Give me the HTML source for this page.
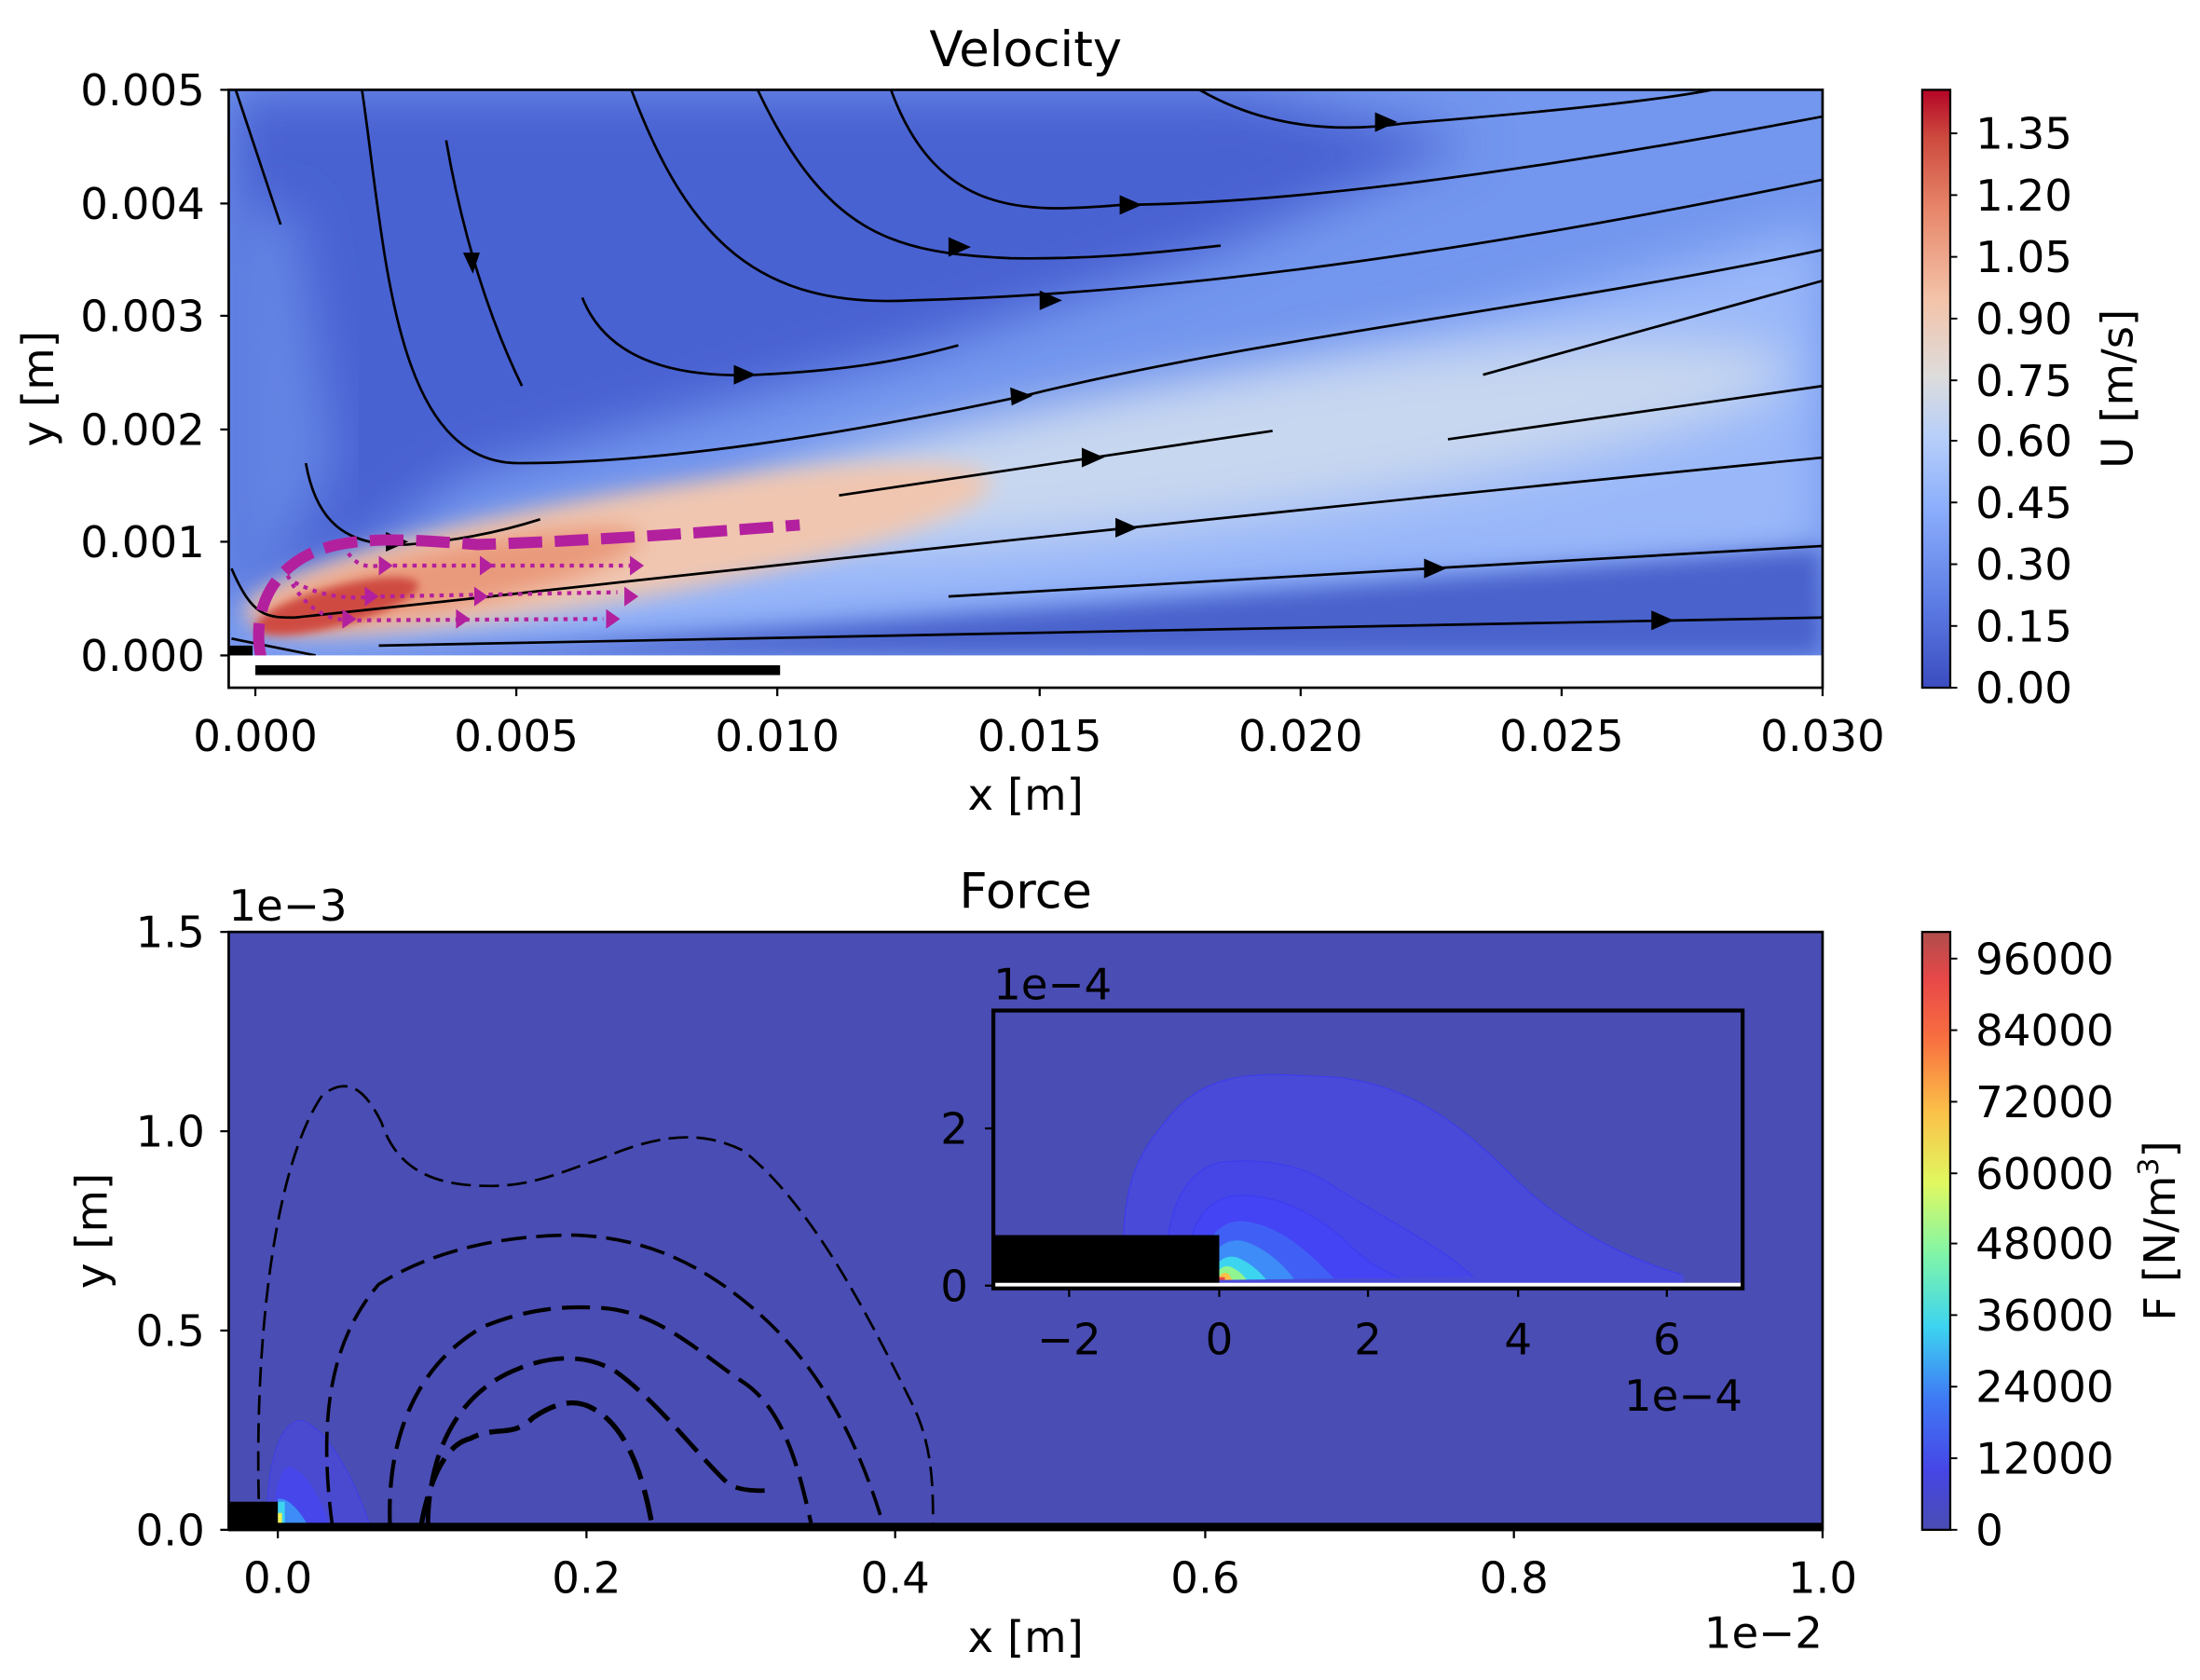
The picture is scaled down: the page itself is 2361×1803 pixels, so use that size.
<!DOCTYPE html>
<html><head><meta charset="utf-8"><style>
html,body{margin:0;padding:0;background:#fff;}
svg{display:block;}
text{font-family:"DejaVu Sans","Liberation Sans",sans-serif;fill:#000;}
</style></head><body>
<svg width="2361" height="1803" viewBox="0 0 1568 1197" preserveAspectRatio="none" xmlns="http://www.w3.org/2000/svg">
<defs>
<filter id="b1" x="-20%" y="-50%" width="140%" height="200%"><feGaussianBlur stdDeviation="18"/></filter>
<filter id="b2" x="-20%" y="-50%" width="140%" height="200%"><feGaussianBlur stdDeviation="8"/></filter>
<filter id="b3" x="-50%" y="-50%" width="200%" height="200%"><feGaussianBlur stdDeviation="3"/></filter>
<clipPath id="c1"><rect x="163" y="64" width="1136" height="403"/></clipPath>
<clipPath id="c2"><rect x="708" y="720" width="534" height="197"/></clipPath>
<linearGradient id="cw" x1="0" y1="1" x2="0" y2="0">
<stop offset="0" stop-color="#3b4cc0"/><stop offset="0.15" stop-color="#5f7fe6"/><stop offset="0.3" stop-color="#8caefc"/>
<stop offset="0.42" stop-color="#b7cff9"/><stop offset="0.52" stop-color="#dddcdc"/><stop offset="0.65" stop-color="#f3c3a9"/>
<stop offset="0.8" stop-color="#e7866a"/><stop offset="0.92" stop-color="#cd4a3e"/><stop offset="1" stop-color="#b40426"/>
</linearGradient>
<linearGradient id="jt" x1="0" y1="1" x2="0" y2="0">
<stop offset="0" stop-color="#4a4db3"/><stop offset="0.1" stop-color="#4646e6"/><stop offset="0.22" stop-color="#3f7af5"/>
<stop offset="0.34" stop-color="#3dd4f0"/><stop offset="0.46" stop-color="#80f5a8"/><stop offset="0.58" stop-color="#e0f860"/>
<stop offset="0.7" stop-color="#fbc048"/><stop offset="0.82" stop-color="#f87040"/><stop offset="0.92" stop-color="#e84848"/><stop offset="1" stop-color="#b04c4c"/>
</linearGradient>
</defs>

<text x="731" y="47" font-size="35" text-anchor="middle">Velocity</text>
<rect x="163" y="64" width="1136" height="426" fill="#fff"/>
<g clip-path="url(#c1)">
<rect x="163" y="64" width="1136" height="403" fill="#7396ee"/>
<polygon points="163,64 880,64 1050,100 860,180 650,250 470,300 330,340 250,400 163,420" fill="#4862d2" filter="url(#b1)"/>
<polygon points="163,150 210,150 240,330 190,420 163,420" fill="#6384e4" filter="url(#b1)"/>
<polygon points="163,460 500,380 900,270 1299,160 1299,400 900,420 500,450 163,467" fill="#9ab8f9" filter="url(#b1)"/>
<ellipse cx="900" cy="315" rx="380" ry="50" transform="rotate(-8 900 315)" fill="#c8d7f0" filter="url(#b1)"/>
<polygon points="163,467 1299,467 1299,390 800,430 400,460" fill="#4862cc" filter="url(#b2)"/>
<ellipse cx="440" cy="390" rx="270" ry="38" transform="rotate(-10 440 390)" fill="#f0c6b0" filter="url(#b2)"/>
<ellipse cx="320" cy="412" rx="140" ry="22" transform="rotate(-12 320 412)" fill="#ea9a7c" filter="url(#b2)"/>
<ellipse cx="240" cy="432" rx="60" ry="14" transform="rotate(-15 240 432)" fill="#cf4c42" filter="url(#b3)"/>
<g fill="none" stroke="#000" stroke-width="1.8">
<path d="M168,64 L200,160"/>
<path d="M855,64 C900,90 950,95 1000,88 C1100,80 1180,72 1220,64"/>
<path d="M635,64 C670,160 740,150 800,146 C900,145 1050,130 1299,83"/>
<path d="M540,64 C590,170 640,180 720,184 C790,185 840,178 870,175"/>
<path d="M450,64 C490,170 540,220 650,214 C800,210 1000,190 1299,128"/>
<path d="M318,100 C330,170 350,230 372,275"/>
<path d="M415,212 C430,250 470,270 540,267 C600,264 640,258 683,246"/>
<path d="M258,64 C275,180 280,330 370,330 C470,330 600,310 730,282 C900,240 1100,220 1299,178"/>
<path d="M598,353 L907,307"/>
<path d="M1057,267 L1299,200"/>
<path d="M1032,313 L1299,275"/>
<path d="M218,330 C225,370 245,390 290,388 C330,385 360,378 385,370"/>
<path d="M165,405 C180,440 190,440 210,440 C400,420 700,385 1299,326"/>
<path d="M676,425 L1020,405 L1299,389"/>
<path d="M270,460 L1299,440"/>
<path d="M165,455 L225,467"/>
</g>
<g fill="#000">
<polygon points="980,80 996,87 980,94"/>
<polygon points="798,139 814,146 798,153"/>
<polygon points="676,169 692,176 676,183"/>
<polygon points="741,207 757,214 741,221"/>
<polygon points="330,180 342,180 337,195"/>
<polygon points="523,260 539,267 523,274"/>
<polygon points="720,276 736,282 721,289"/>
<polygon points="771,319 787,326 771,333"/>
<polygon points="275,379 291,386 275,393"/>
<polygon points="795,369 811,376 795,383"/>
<polygon points="1015,398 1031,405 1015,412"/>
<polygon points="1177,435 1193,442 1177,449"/>
</g>
<path d="M186,468 C180,440 190,410 220,395 C250,380 300,385 340,388 C400,386 470,382 570,374" fill="none" stroke="#b3209e" stroke-width="8" stroke-dasharray="24,9"/>
<g fill="none" stroke="#b3209e" stroke-width="2.8" stroke-dasharray="3,4">
<path d="M245,388 C250,400 258,405 270,403 L450,403"/>
<path d="M210,415 C230,425 245,427 270,425 L440,422"/>
<path d="M205,410 C215,430 230,442 250,442 L430,441"/>
</g>
<g fill="#b3209e">
<polygon points="270,396 280,403 270,410"/><polygon points="342,396 352,403 342,410"/><polygon points="449,396 459,403 449,410"/>
<polygon points="260,418 270,425 260,432"/><polygon points="338,418 348,425 338,432"/><polygon points="445,418 455,425 445,432"/>
<polygon points="244,434 254,441 244,448"/><polygon points="325,434 335,441 325,448"/><polygon points="432,434 442,441 432,448"/>
</g>
</g>
<rect x="163" y="460" width="17" height="7" fill="#000"/>
<rect x="182" y="474" width="374" height="7" fill="#000"/>
<rect x="163" y="64" width="1136" height="426" fill="none" stroke="#000" stroke-width="1.8"/>
<g stroke="#000" stroke-width="1.5">
<line x1="182" y1="490" x2="182" y2="496"/><line x1="368" y1="490" x2="368" y2="496"/><line x1="554" y1="490" x2="554" y2="496"/>
<line x1="741" y1="490" x2="741" y2="496"/><line x1="927" y1="490" x2="927" y2="496"/><line x1="1113" y1="490" x2="1113" y2="496"/><line x1="1299" y1="490" x2="1299" y2="496"/>
<line x1="157" y1="64" x2="163" y2="64"/><line x1="157" y1="145" x2="163" y2="145"/><line x1="157" y1="225" x2="163" y2="225"/>
<line x1="157" y1="306" x2="163" y2="306"/><line x1="157" y1="386" x2="163" y2="386"/><line x1="157" y1="467" x2="163" y2="467"/>
</g>
<g font-size="31" text-anchor="middle">
<text x="182" y="535">0.000</text><text x="368" y="535">0.005</text><text x="554" y="535">0.010</text><text x="741" y="535">0.015</text>
<text x="927" y="535">0.020</text><text x="1113" y="535">0.025</text><text x="1299" y="535">0.030</text>
</g>
<g font-size="31" text-anchor="end">
<text x="146" y="75">0.005</text><text x="146" y="156">0.004</text><text x="146" y="236">0.003</text>
<text x="146" y="317">0.002</text><text x="146" y="397">0.001</text><text x="146" y="478">0.000</text>
</g>
<text x="731" y="577" font-size="31" text-anchor="middle">x [m]</text>
<text transform="translate(38,277) rotate(-90)" font-size="31" text-anchor="middle">y [m]</text>
<rect x="1370" y="64" width="20" height="426" fill="url(#cw)" stroke="#000" stroke-width="1.5"/>
<g stroke="#000" stroke-width="1.3">
<line x1="1390" y1="490" x2="1395" y2="490"/><line x1="1390" y1="446" x2="1395" y2="446"/><line x1="1390" y1="402" x2="1395" y2="402"/>
<line x1="1390" y1="358" x2="1395" y2="358"/><line x1="1390" y1="314" x2="1395" y2="314"/><line x1="1390" y1="271" x2="1395" y2="271"/>
<line x1="1390" y1="227" x2="1395" y2="227"/><line x1="1390" y1="183" x2="1395" y2="183"/><line x1="1390" y1="139" x2="1395" y2="139"/><line x1="1390" y1="95" x2="1395" y2="95"/>
</g>
<g font-size="31">
<text x="1408" y="501">0.00</text><text x="1408" y="457">0.15</text><text x="1408" y="413">0.30</text><text x="1408" y="369">0.45</text>
<text x="1408" y="325">0.60</text><text x="1408" y="282">0.75</text><text x="1408" y="238">0.90</text><text x="1408" y="194">1.05</text>
<text x="1408" y="150">1.20</text><text x="1408" y="106">1.35</text>
</g>
<text transform="translate(1520,277) rotate(-90)" font-size="31" text-anchor="middle">U [m/s]</text>

<text x="731" y="647" font-size="35" text-anchor="middle">Force</text>
<text x="163" y="656" font-size="31">1e−3</text>
<rect x="163" y="664" width="1136" height="426" fill="#4a4db3"/>
<path d="M190,1088 C190,1040 200,1012 215,1012 C235,1018 255,1060 264,1088 Z" fill="#4a4ad0" stroke="#3c3cf0" stroke-width="0.6"/>
<path d="M195,1088 C195,1060 200,1045 207,1045 C220,1050 230,1070 235,1088 Z" fill="#4646ea"/>
<path d="M198,1088 L198,1068 C205,1066 215,1078 220,1088 Z" fill="#3d8cf7"/>
<rect x="198" y="1070" width="5" height="18" fill="#3dd4f0"/>
<rect x="198" y="1078" width="3" height="10" fill="#f0f050"/>
<g fill="none" stroke="#000">
<path stroke-width="1.8" stroke-dasharray="14,6" d="M185,1088 C180,960 195,830 230,780 C250,765 262,780 272,800 C285,840 320,845 350,845 C380,845 400,835 430,825 C470,808 500,805 530,820 C580,860 620,940 650,1000 C665,1030 665,1060 665,1088"/>
<path stroke-width="2.4" stroke-dasharray="18,7" d="M237,1088 C225,1000 240,950 270,915 C310,890 360,880 410,880 C460,882 500,900 540,935 C580,970 610,1020 630,1088"/>
<path stroke-width="2.8" stroke-dasharray="20,8" d="M278,1088 C275,1020 300,970 345,945 C375,933 400,930 430,932 C470,935 500,965 530,985 C560,1005 570,1050 578,1085"/>
<path stroke-width="3.2" stroke-dasharray="22,8" d="M305,1088 C305,1030 330,990 370,975 C395,965 420,965 440,978 C470,1000 500,1040 520,1058 C530,1063 545,1062 545,1062"/>
<path stroke-width="3.6" stroke-dasharray="22,8" d="M300,1088 C305,1060 315,1030 335,1025 C355,1015 365,1025 380,1010 C395,1000 410,995 425,1005 C450,1020 460,1060 465,1088"/>
</g>
<rect x="163" y="1070" width="35" height="18" fill="#000"/>
<rect x="163" y="1085" width="1136" height="6" fill="#000"/>
<rect x="163" y="664" width="1136" height="426" fill="none" stroke="#000" stroke-width="1.8"/>
<g stroke="#000" stroke-width="1.5">
<line x1="198" y1="1090" x2="198" y2="1096"/><line x1="418" y1="1090" x2="418" y2="1096"/><line x1="638" y1="1090" x2="638" y2="1096"/>
<line x1="859" y1="1090" x2="859" y2="1096"/><line x1="1079" y1="1090" x2="1079" y2="1096"/><line x1="1299" y1="1090" x2="1299" y2="1096"/>
<line x1="157" y1="664" x2="163" y2="664"/><line x1="157" y1="806" x2="163" y2="806"/><line x1="157" y1="948" x2="163" y2="948"/><line x1="157" y1="1090" x2="163" y2="1090"/>
</g>
<g font-size="31" text-anchor="middle">
<text x="198" y="1135">0.0</text><text x="418" y="1135">0.2</text><text x="638" y="1135">0.4</text>
<text x="859" y="1135">0.6</text><text x="1079" y="1135">0.8</text><text x="1299" y="1135">1.0</text>
</g>
<text x="1299" y="1174" font-size="31" text-anchor="end">1e−2</text>
<g font-size="31" text-anchor="end">
<text x="146" y="675">1.5</text><text x="146" y="817">1.0</text><text x="146" y="959">0.5</text><text x="146" y="1101">0.0</text>
</g>
<text x="731" y="1177" font-size="31" text-anchor="middle">x [m]</text>
<text transform="translate(76,877) rotate(-90)" font-size="31" text-anchor="middle">y [m]</text>

<text x="708" y="712" font-size="31">1e−4</text>
<rect x="708" y="720" width="534" height="198" fill="#4a4db3"/>
<g clip-path="url(#c2)">
<path d="M800,915 C800,850 805,830 830,800 C860,760 900,765 940,767 C1000,768 1040,800 1080,840 C1120,880 1170,900 1198,908 L1195,915 Z" fill="#4a4ad8" stroke="#3c3cf0" stroke-width="0.8"/>
<path d="M830,915 C830,870 840,835 870,828 C900,825 930,830 950,845 C990,870 1030,890 1050,910 L1050,915 Z" fill="#4646e6" stroke="#3c3cf0" stroke-width="0.8"/>
<path d="M845,915 C845,880 855,855 880,852 C915,850 945,870 965,890 C975,900 985,905 997,910 L997,915 Z" fill="#4444f5" stroke="#3c3cf0" stroke-width="0.8"/>
<path d="M855,915 C855,890 865,870 885,870 C910,872 930,890 945,905 L955,915 Z" fill="#4060f5"/>
<path d="M860,915 C860,895 870,882 885,884 C900,888 915,900 925,915 Z" fill="#3d8cf7"/>
<path d="M864,915 C864,900 872,893 882,896 C892,900 900,908 905,915 Z" fill="#3dd4f0"/>
<path d="M866,915 C866,905 872,900 878,903 C884,906 888,910 890,915 Z" fill="#90f590"/>
<path d="M868,915 C868,908 872,905 876,908 L880,915 Z" fill="#fbc048"/>
<rect x="868" y="910" width="5" height="5" fill="#e84848"/>
<path d="M869,912 L1200,908 L1200,915 L869,915 Z" fill="#4a4ad8"/>
</g>
<rect x="708" y="880" width="161" height="35" fill="#000"/>
<rect x="708" y="914" width="534" height="4" fill="#fff"/>
<rect x="708" y="720" width="534" height="198" fill="none" stroke="#000" stroke-width="2.8"/>
<g stroke="#000" stroke-width="1.5">
<line x1="762" y1="918" x2="762" y2="924"/><line x1="869" y1="918" x2="869" y2="924"/><line x1="975" y1="918" x2="975" y2="924"/>
<line x1="1082" y1="918" x2="1082" y2="924"/><line x1="1188" y1="918" x2="1188" y2="924"/>
<line x1="702" y1="804" x2="708" y2="804"/><line x1="702" y1="916" x2="708" y2="916"/>
</g>
<g font-size="31" text-anchor="middle">
<text x="762" y="965">−2</text><text x="869" y="965">0</text><text x="975" y="965">2</text><text x="1082" y="965">4</text><text x="1188" y="965">6</text>
</g>
<text x="1242" y="1005" font-size="31" text-anchor="end">1e−4</text>
<text x="690" y="815" font-size="31" text-anchor="end">2</text><text x="690" y="927" font-size="31" text-anchor="end">0</text>

<rect x="1370" y="664" width="20" height="426" fill="url(#jt)" stroke="#000" stroke-width="1.5"/>
<g stroke="#000" stroke-width="1.3">
<line x1="1390" y1="1090" x2="1395" y2="1090"/><line x1="1390" y1="1039" x2="1395" y2="1039"/><line x1="1390" y1="988" x2="1395" y2="988"/>
<line x1="1390" y1="937" x2="1395" y2="937"/><line x1="1390" y1="886" x2="1395" y2="886"/><line x1="1390" y1="836" x2="1395" y2="836"/>
<line x1="1390" y1="785" x2="1395" y2="785"/><line x1="1390" y1="734" x2="1395" y2="734"/><line x1="1390" y1="683" x2="1395" y2="683"/>
</g>
<g font-size="31">
<text x="1408" y="1101">0</text><text x="1408" y="1050">12000</text><text x="1408" y="999">24000</text><text x="1408" y="948">36000</text>
<text x="1408" y="897">48000</text><text x="1408" y="847">60000</text><text x="1408" y="796">72000</text><text x="1408" y="745">84000</text><text x="1408" y="694">96000</text>
</g>
<text transform="translate(1550,877) rotate(-90)" font-size="31" text-anchor="middle">F [N/m<tspan font-size="20" dy="-12">3</tspan><tspan dy="12">]</tspan></text>
</svg>
</body></html>
